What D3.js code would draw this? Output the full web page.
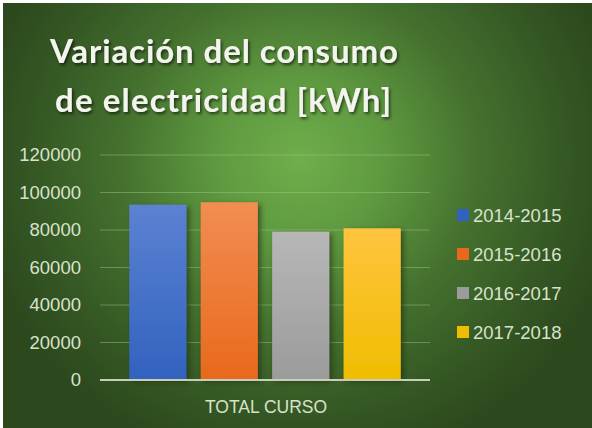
<!DOCTYPE html>
<html>
<head>
<meta charset="utf-8">
<script src="https://cdn.jsdelivr.net/npm/d3@7"></script>
<style>
  html, body { margin: 0; padding: 0; background: #ffffff; }
  svg { display: block; }
</style>
</head>
<body>
<div id="chart"></div>
<script>
// Electricity consumption per school year (kWh)
const titleLines = ["Variación del consumo", "de electricidad [kWh]"];
const category = "TOTAL CURSO";
const seriesNames = ["2014-2015", "2015-2016", "2016-2017", "2017-2018"];
const seriesValues = [93500, 94800, 79100, 80900];
const yTicks = [0, 20000, 40000, 60000, 80000, 100000, 120000];

const W = 592, H = 428;
const plot = { left: 100, right: 430, top: 155, bottom: 380 };

const colors = [
  { top: "#5c82d2", bottom: "#3162be" },
  { top: "#f28d52", bottom: "#e8691c" },
  { top: "#b7b7b7", bottom: "#9b9b9b" },
  { top: "#ffc43e", bottom: "#f0bd00" }
];

const svg = d3.select("#chart").append("svg")
  .attr("width", W).attr("height", H);

const defs = svg.append("defs");

// Background: green radial glow
const bg = defs.append("radialGradient")
  .attr("id", "bg")
  .attr("gradientUnits", "userSpaceOnUse")
  .attr("cx", 300).attr("cy", 160).attr("r", 330)
  .attr("gradientTransform", "translate(300,160) scale(1,0.95) translate(-300,-160)");
[[0, "#6fae4b"], [0.25, "#5f9a40"], [0.55, "#44702e"], [0.8, "#355824"], [1, "#2c481d"]]
  .forEach(([o, c]) => bg.append("stop").attr("offset", o).attr("stop-color", c));

colors.forEach((c, i) => {
  const g = defs.append("linearGradient").attr("id", "bar" + i)
    .attr("x1", 0).attr("y1", 0).attr("x2", 0).attr("y2", 1);
  g.append("stop").attr("offset", 0).attr("stop-color", c.top);
  g.append("stop").attr("offset", 1).attr("stop-color", c.bottom);
});

const shadow = defs.append("filter").attr("id", "shadow")
  .attr("x", "-20%").attr("y", "-20%").attr("width", "150%").attr("height", "150%");
shadow.append("feDropShadow").attr("dx", 3).attr("dy", 2).attr("stdDeviation", 2.5)
  .attr("flood-color", "#1a2a10").attr("flood-opacity", 0.6);

const tshadow = defs.append("filter").attr("id", "tshadow")
  .attr("x", "-10%").attr("y", "-30%").attr("width", "120%").attr("height", "160%");
tshadow.append("feDropShadow").attr("dx", 1.5).attr("dy", 2).attr("stdDeviation", 1.5)
  .attr("flood-color", "#000").attr("flood-opacity", 0.6);

svg.append("rect").attr("width", W).attr("height", H).attr("fill", "#ffffff");
svg.append("rect").attr("x", 3).attr("y", 3).attr("width", W - 3).attr("height", H - 3)
  .attr("fill", "url(#bg)");

// Title
const title = svg.append("g").attr("filter", "url(#tshadow)");
title.selectAll("text").data(titleLines).join("text")
  .attr("x", (d, i) => i === 0 ? 50 : 55)
  .attr("y", (d, i) => i === 0 ? 63 : 112)
  .attr("textLength", (d, i) => i === 0 ? 348 : 336)
  .attr("lengthAdjust", "spacing")
  .attr("font-family", "Lato, 'Open Sans', sans-serif")
  .attr("font-weight", "bold")
  .attr("font-size", 33)
  .attr("fill", "#f4f4ef")
  .text(d => d);

// Scales
const y = d3.scaleLinear().domain([0, 120000]).range([plot.bottom, plot.top]);
const x = d3.scaleBand().domain(seriesNames)
  .range([plot.left, plot.right]).paddingInner(0.2).paddingOuter(0.41);

// Gridlines
svg.append("g")
  .selectAll("line").data(yTicks.filter(t => t > 0)).join("line")
  .attr("x1", plot.left).attr("x2", plot.right)
  .attr("y1", d => y(d)).attr("y2", d => y(d))
  .attr("stroke", "#a8c890").attr("stroke-opacity", 0.45).attr("stroke-width", 1);

// Y axis labels
const yAxis = svg.append("g")
  .attr("transform", `translate(${plot.left - 9},0)`)
  .call(d3.axisLeft(y).tickValues(yTicks).tickSize(0).tickPadding(10).tickFormat(d3.format("d")));
yAxis.select(".domain").remove();
yAxis.selectAll("text")
  .attr("font-family", "'Liberation Sans', Arial, sans-serif")
  .attr("font-size", 18.5)
  .attr("fill", "#d8e2cc");

// Bars
svg.append("g").selectAll("rect").data(seriesValues).join("rect")
  .attr("x", (d, i) => x(seriesNames[i]))
  .attr("width", x.bandwidth())
  .attr("y", d => y(d))
  .attr("height", d => y(0) - y(d))
  .attr("fill", (d, i) => `url(#bar${i})`)
  .attr("filter", "url(#shadow)");

// Category axis baseline
svg.append("line")
  .attr("x1", plot.left).attr("x2", plot.right)
  .attr("y1", y(0)).attr("y2", y(0))
  .attr("stroke", "#c9cdbb").attr("stroke-width", 2);

svg.append("text")
  .attr("x", (plot.left + plot.right) / 2 + 1).attr("y", 413)
  .attr("text-anchor", "middle")
  .attr("font-family", "'Liberation Sans', Arial, sans-serif")
  .attr("font-size", 17.5)
  .attr("fill", "#d8e2cc")
  .text(category);

// Legend
const ly = d3.scalePoint().domain(seriesNames).range([215, 332]);
const legend = svg.append("g").selectAll("g").data(seriesNames).join("g")
  .attr("transform", d => `translate(457,${ly(d)})`);
legend.append("rect")
  .attr("x", 0).attr("y", -6).attr("width", 12).attr("height", 12)
  .attr("fill", (d, i) => colors[i].bottom);
legend.append("text")
  .attr("x", 16).attr("y", 7)
  .attr("font-family", "'Liberation Sans', Arial, sans-serif")
  .attr("font-size", 18.5)
  .attr("fill", "#d8e2cc")
  .text(d => d);
</script>
</body>
</html>
